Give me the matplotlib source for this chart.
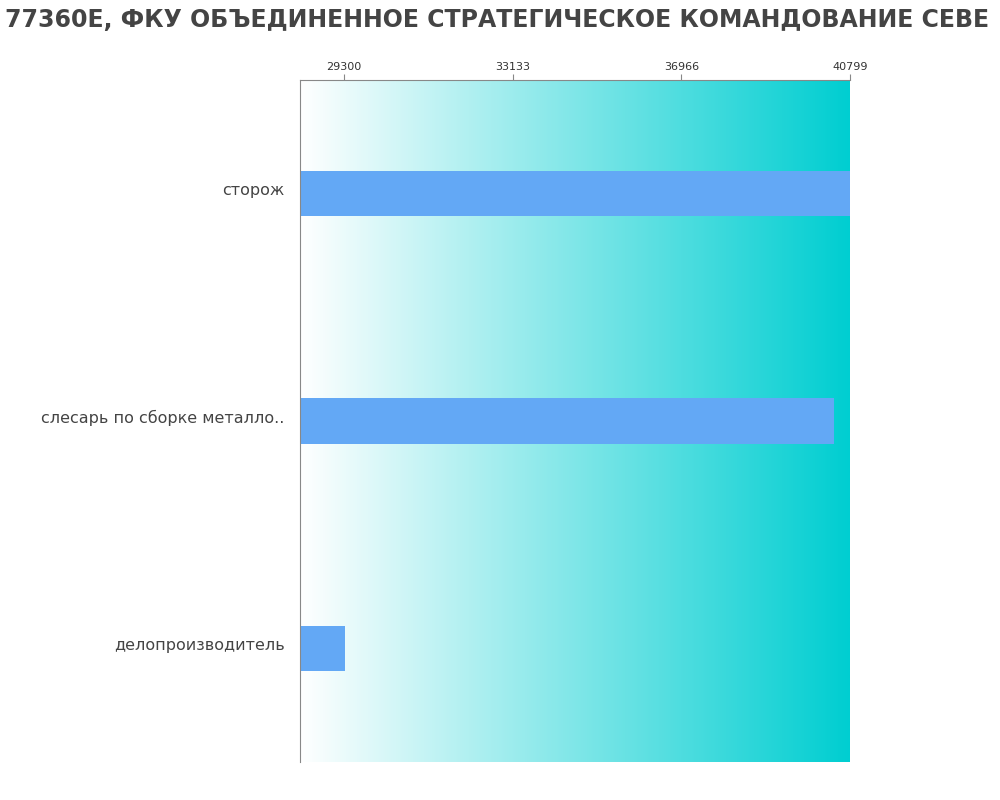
import numpy as np
import matplotlib.pyplot as plt
from matplotlib.colors import LinearSegmentedColormap

title = "77360Е, ФКУ ОБЪЕДИНЕННОЕ СТРАТЕГИЧЕСКОЕ КОМАНДОВАНИЕ СЕВЕ"
categories = ["сторож", "слесарь по сборке металло..", "делопроизводитель"]
values = [40799, 40435, 29320]
ticks = [29300, 33133, 36966, 40799]
x_min, x_max = 28300, 40799

fig = plt.figure(figsize=(10, 8), dpi=100)
ax = fig.add_axes([0.3, 0.0475, 0.55, 0.8525])

cmap = LinearSegmentedColormap.from_list("bg", ["#ffffff", "#00ced1"])
grad = np.linspace(0, 1, 256).reshape(1, -1)
ax.imshow(grad, extent=[x_min, x_max, -0.5, len(categories) - 0.5],
          aspect="auto", cmap=cmap, zorder=0)

y = np.arange(len(categories))
ax.barh(y, values, height=0.2, color="#63a8f5", zorder=2)
ax.set_xlim(x_min, x_max)
ax.set_ylim(len(categories) - 0.5, -0.5)

ax.xaxis.tick_top()
ax.set_xticks(ticks)
ax.set_xticklabels([str(t) for t in ticks], fontsize=8, color="#333333")
ax.set_yticks(y - 0.02)
ax.set_yticklabels(categories, fontsize=11.5, color="#444444")
ax.tick_params(axis="y", length=0, pad=11)
ax.tick_params(axis="x", length=4, color="#888888", pad=2)
for s in ["right", "bottom"]:
    ax.spines[s].set_visible(False)
for s in ["left", "top"]:
    ax.spines[s].set_color("#888888")

fig.text(0.005, 0.975, title, fontsize=17, fontweight="bold",
         color="#444444", ha="left", va="center")

fig.savefig("out.png", dpi=100)
